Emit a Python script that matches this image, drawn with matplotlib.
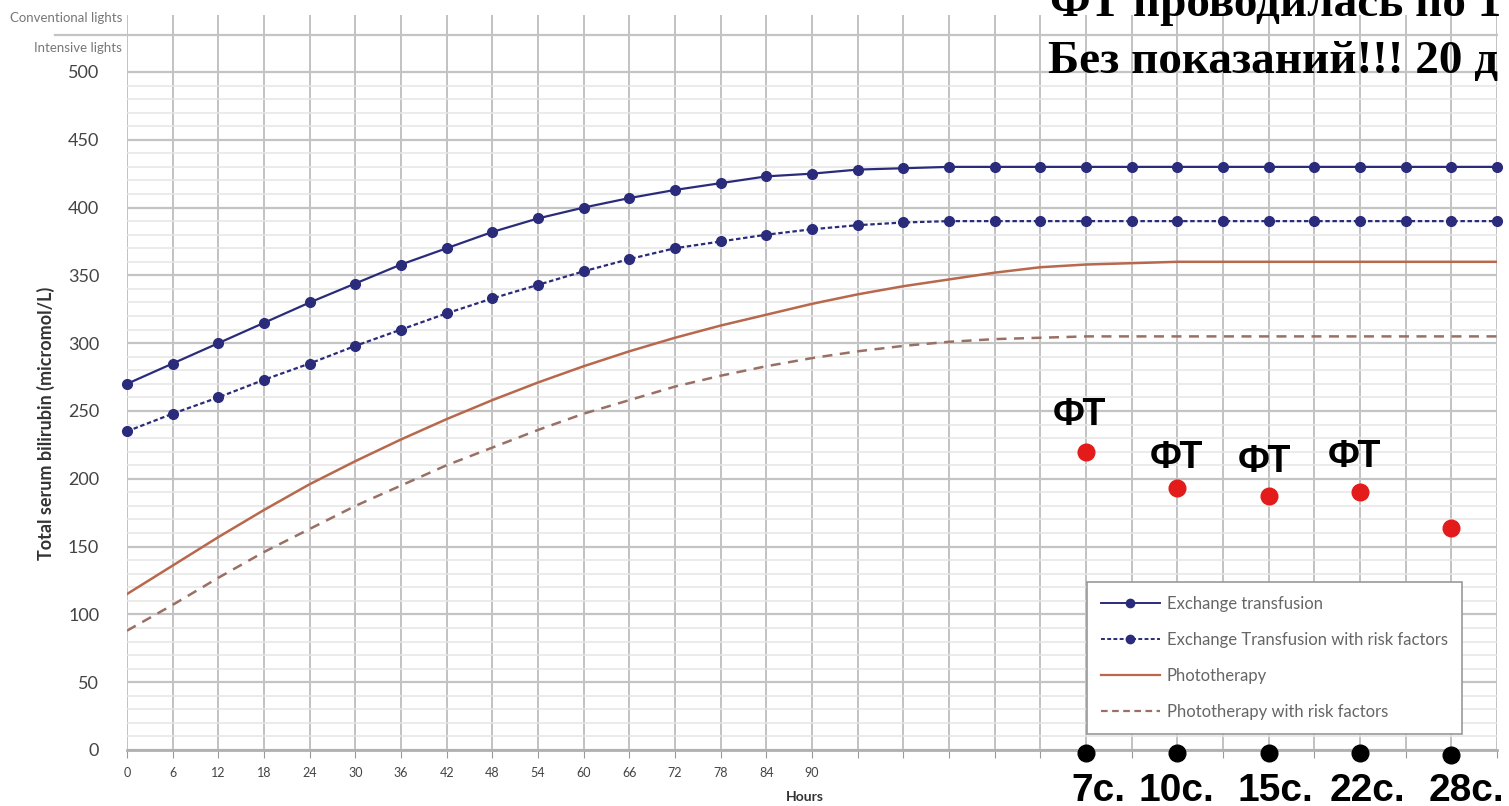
import numpy as np
import matplotlib
matplotlib.use("Agg")
from matplotlib import pyplot as plt
from matplotlib.lines import Line2D

# Данные (часы, мкмоль/л)
hours = list(range(0, 181, 6))
exchange = [270, 285, 300, 315, 330, 344, 358, 370, 382, 392, 400, 407, 413, 418, 423, 425,
            428, 429, 430, 430, 430, 430, 430, 430, 430, 430, 430, 430, 430, 430, 430]
exchange_risk = [235, 248, 260, 273, 285, 298, 310, 322, 333, 343, 353, 362, 370, 375, 380, 384,
                 387, 389, 390, 390, 390, 390, 390, 390, 390, 390, 390, 390, 390, 390, 390]
photo = [115, 136, 157, 177, 196, 213, 229, 244, 258, 271, 283, 294, 304, 313, 321, 329,
         336, 342, 347, 352, 356, 358, 359, 360, 360, 360, 360, 360, 360, 360, 360]
photo_risk = [88, 107, 127, 146, 163, 180, 195, 210, 223, 236, 248, 258, 268, 276, 283, 289,
              294, 298, 301, 303, 304, 305, 305, 305, 305, 305, 305, 305, 305, 305, 305]

# Измерения пациента
patient_hours = [126, 138, 150, 162, 174]
patient_tsb = [220, 193, 187, 190, 164]
day_marks = [-2, -2, -2, -2, -4]
day_labels = ["7с.", "10с.", "15с.", "22с.", "28с."]
ft_labels = ["ФТ", "ФТ", "ФТ", "ФТ"]

W, H = 1509, 806
fig = plt.figure(figsize=(W / 100, H / 100), dpi=100)
ax = fig.add_axes([127 / W, 1 - 750 / H, (1497 - 127) / W, (750 - 15) / H])
ax.set_xlim(0, 180)
ax.set_ylim(0, 542)

# Сетка
ax.set_xticks(hours)
ax.set_xticklabels([str(h) if h <= 90 else "" for h in hours])
ax.set_yticks(range(0, 501, 50))
ax.set_yticks([v for v in range(10, 500, 10) if v % 50], minor=True)
ax.grid(axis="x", color="#bdbdbd", lw=1.3)
ax.grid(axis="y", which="major", color="#c4c4c4", lw=1.6)
ax.grid(axis="y", which="minor", color="#e6e6e6", lw=1.1)
ax.set_axisbelow(True)
for s in ["top", "right", "left"]:
    ax.spines[s].set_visible(False)
ax.spines["bottom"].set_color("#b0b0b0")
ax.spines["bottom"].set_linewidth(2)
ax.tick_params(axis="x", length=6, color="#999999", labelsize=9, labelcolor="#444444", pad=6)
ax.tick_params(axis="y", which="both", length=0, labelsize=13, labelcolor="#444444", pad=20)
for lab in ax.get_xticklabels() + ax.get_yticklabels():
    lab.set_family("Lato")

# Линия над 500
ax.plot([-9.4, 180], [527, 527], color="#c4c4c4", lw=1.6, clip_on=False)
fig.text(122 / W, 1 - 18 / H, "Conventional lights", ha="right", va="center",
         fontsize=9.5, color="#777777", family="Lato")
fig.text(122 / W, 1 - 48 / H, "Intensive lights", ha="right", va="center",
         fontsize=9.5, color="#777777", family="Lato")

navy = "#2b2b7c"
brown = "#b8684c"
brown_d = "#9a7064"
ax.plot(hours, exchange, color=navy, lw=1.6, marker="o", ms=7, clip_on=False, zorder=4)
ax.plot(hours, exchange_risk, color=navy, lw=1.6, ls=(0, (2, 1.2)), marker="o", ms=7,
        clip_on=False, zorder=4)
ax.plot(hours, photo, color=brown, lw=1.8, zorder=3)
ax.plot(hours, photo_risk, color=brown_d, lw=1.8, ls=(0, (4, 3)), zorder=3)

ax.set_ylabel("Total serum bilirubin (micromol/L)", fontsize=13, color="#333333",
              family="Lato", fontweight="bold")
ax.yaxis.set_label_coords(-(127 - 55) / (1497 - 127), 0.445)
fig.text(805 / W, 1 - 797 / H, "Hours", ha="center", va="center", fontsize=10,
         color="#333333", family="Lato", fontweight="bold")

# Легенда
handles = [
    Line2D([], [], color=navy, lw=1.4, marker="o", ms=6),
    Line2D([], [], color=navy, lw=1.4, ls=(0, (2, 1.2)), marker="o", ms=6),
    Line2D([], [], color=brown, lw=1.6),
    Line2D([], [], color=brown_d, lw=1.6, ls=(0, (3, 2))),
]
labels = ["Exchange transfusion", "Exchange Transfusion with risk factors",
          "Phototherapy", "Phototherapy with risk factors"]
leg = fig.legend(handles, labels, loc="upper left", bbox_to_anchor=(1087 / W, 1 - 582 / H),
                 prop={"family": "Lato", "size": 12}, handlelength=3.5, handletextpad=0.45,
                 labelspacing=1.2, borderpad=0.85, borderaxespad=0, fancybox=False,
                 edgecolor="#999999", framealpha=1, numpoints=1)
leg.get_frame().set_linewidth(1.2)
for t in leg.get_texts():
    t.set_color("#666666")

# Точки пациента
ax.plot(patient_hours, patient_tsb, "o", color="#e31b1b", ms=12, ls="none", zorder=5)
ax.plot(patient_hours, day_marks, "o", color="black", ms=12, ls="none", zorder=5, clip_on=False)

day_dx = [12, -1, 7, 7, 15]
for h, lab, dx in zip(patient_hours, day_labels, day_dx):
    ax.annotate(lab, xy=(h, 0), xytext=(dx, -51), textcoords="offset pixels",
                ha="center", va="baseline", fontsize=28, fontweight="bold",
                family="Liberation Sans", annotation_clip=False)

ft_dx = [-7, -1, -4, -6]
ft_dy = [27, 20, 24, 25]
for h, v, lab, dx, dy in zip(patient_hours, patient_tsb, ft_labels, ft_dx, ft_dy):
    ax.annotate(lab, xy=(h, v), xytext=(dx, dy), textcoords="offset pixels",
                ha="center", va="baseline", fontsize=27, fontweight="bold",
                family="Liberation Sans")

# Надписи сверху
fig.text(1050 / W, 1 - 16 / H, "ФТ проводилась по 1", fontsize=34, fontweight="bold",
         family="Liberation Serif", va="baseline")
fig.text(1048 / W, 1 - 73 / H, "Без показаний!!! 20 д", fontsize=34, fontweight="bold",
         family="Liberation Serif", va="baseline")

plt.savefig("out.png", dpi=100)
plt.close()
